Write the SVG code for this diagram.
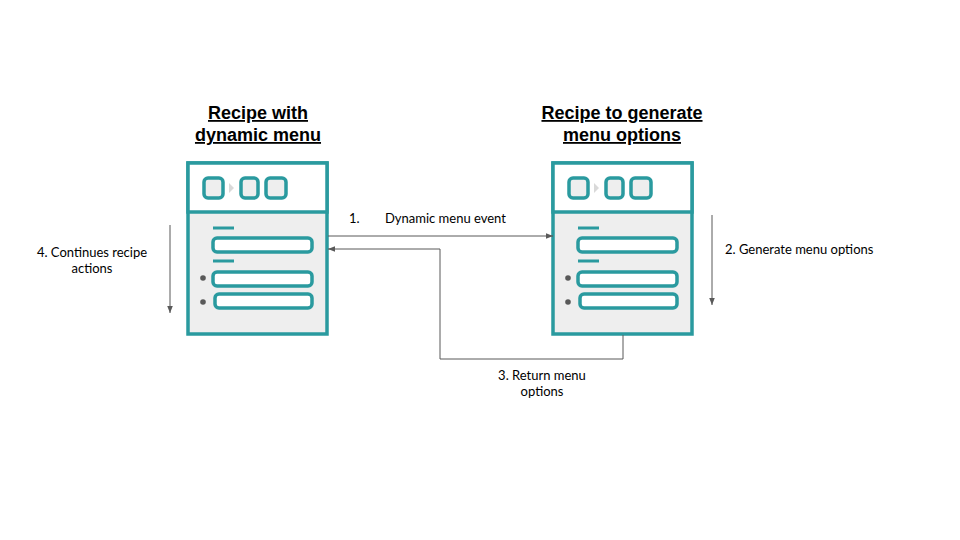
<svg xmlns="http://www.w3.org/2000/svg" width="960" height="540" viewBox="0 0 960 540">
<defs>
<style>
.frame{fill:#eeeeee;stroke:#2a9a9f;stroke-width:3.5}
.hdr{fill:#ffffff;stroke:#2a9a9f;stroke-width:3.5}
.ico{fill:#eeeeee;stroke:#2a9a9f;stroke-width:3.5}
.bar{fill:#ffffff;stroke:#2a9a9f;stroke-width:3.5}
.dash{stroke:#2a9a9f;stroke-width:3}
.dot{fill:#595959}
.tri{fill:#d9d9d9}
.title{font-family:"Liberation Sans",Arial,sans-serif;font-weight:bold;font-size:18px;text-decoration:underline;fill:#000;text-anchor:middle}
.lbl{font-family:Lato,"Liberation Sans",sans-serif;font-size:13px;fill:#000}
.conn{fill:none;stroke:#595959;stroke-width:1}
</style>
<marker id="ah" viewBox="0 0 10 10" refX="10" refY="5" markerWidth="7" markerHeight="7" markerUnits="userSpaceOnUse" orient="auto">
<path d="M0,1 L10,5 L0,9 z" fill="#595959"/>
</marker>
<g id="doc">
<rect class="frame" x="0" y="0" width="139" height="171"/>
<rect class="hdr" x="0" y="0" width="139" height="49"/>
<rect class="ico" x="16" y="15" width="19" height="20" rx="4"/>
<path class="tri" d="M41,20 L46,25 L41,30 z"/>
<rect class="ico" x="53" y="15" width="17" height="20" rx="4"/>
<rect class="ico" x="78" y="15" width="20" height="20" rx="4"/>
<line class="dash" x1="25" y1="65" x2="46" y2="65"/>
<rect class="bar" x="25" y="75" width="99" height="14" rx="4"/>
<line class="dash" x1="25" y1="98" x2="46" y2="98"/>
<rect class="bar" x="25" y="109" width="99" height="14" rx="4"/>
<rect class="bar" x="27" y="131" width="97" height="14" rx="4"/>
<circle class="dot" cx="15" cy="115" r="2.8"/>
<circle class="dot" cx="15" cy="139" r="2.8"/>
</g>
</defs>
<rect width="960" height="540" fill="#ffffff"/>
<g id="node-left">
<text class="title" x="258" y="119">Recipe with</text>
<text class="title" x="258" y="141">dynamic menu</text>
<use href="#doc" x="188" y="163"/>
</g>
<g id="node-right">
<text class="title" x="622" y="119">Recipe to generate</text>
<text class="title" x="622" y="141">menu options</text>
<use href="#doc" x="553" y="163"/>
</g>
<g id="connectors">
<line class="conn" x1="328" y1="236" x2="553" y2="236" marker-end="url(#ah)"/>
<path class="conn" d="M623,335 V359 H440 V249 H328" marker-end="url(#ah)"/>
<line class="conn" x1="712" y1="215" x2="712" y2="305" marker-end="url(#ah)"/>
<line class="conn" x1="170" y1="225" x2="170" y2="313" marker-end="url(#ah)"/>
</g>
<g id="labels">
<text class="lbl" x="349" y="223">1.</text>
<text class="lbl" x="385" y="223">Dynamic menu event</text>
<text class="lbl" x="725" y="254">2. Generate menu options</text>
<text class="lbl" x="542" y="380" text-anchor="middle">3. Return menu</text>
<text class="lbl" x="542" y="396" text-anchor="middle">options</text>
<text class="lbl" x="92" y="257" text-anchor="middle">4. Continues recipe</text>
<text class="lbl" x="92" y="273" text-anchor="middle">actions</text>
</g>
</svg>
